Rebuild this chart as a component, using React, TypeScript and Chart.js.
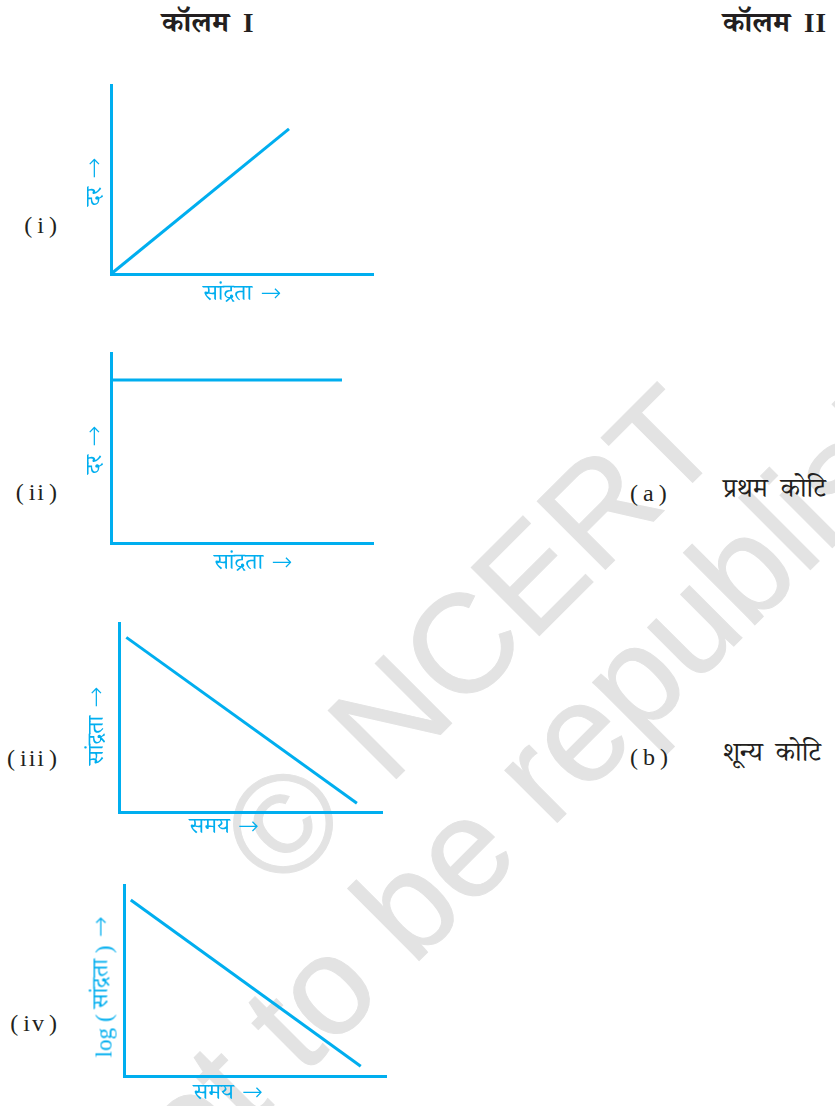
import React, { useEffect, useRef } from "react";
import { Chart, registerables } from "chart.js";

Chart.register(...registerables);

// ---- data (percent of axis range) ----
const panelIds = ["i", "ii", "iii", "iv"];
const panel1X = [0, 68.2];
const panel1Y = [0, 76.8];
const panel2X = [0, 88.5];
const panel2Y = [85.8, 85.8];
const panel3X = [2.8, 90.8];
const panel3Y = [92.4, 4.6];
const panel4X = [2.6, 90.7];
const panel4Y = [92.1, 5.1];
const yTitles = ["दर", "दर", "सांद्रता", "log ( सांद्रता )"];
const xTitles = ["सांद्रता", "सांद्रता", "समय", "समय"];
const ARROW = "→";
const columnHeads = ["कॉलम I", "कॉलम II"];
const answerIds = ["a", "b"];
const answerTexts = ["प्रथम कोटि", "शून्य कोटि"];
const watermarkLines = ["© NCERT", "not to be republished"];

const CYAN = "#00AEEF";
const DEVA = '"Noto Serif Devanagari", "Noto Sans Devanagari", "Lohit Devanagari", "FreeSerif", "Noto Sans", sans-serif';
const SERIF = '"Liberation Serif", "DejaVu Serif", serif';

// plot rectangles in page pixels: left, top, right, bottom
const rects = [
  [111, 85, 372, 274],
  [111, 353, 372, 543],
  [119, 623, 381, 812],
  [124, 885, 385, 1076],
];
const xs = [panel1X, panel2X, panel3X, panel4X];
const ys = [panel1Y, panel2Y, panel3Y, panel4Y];
const yTitlePos = [
  [97, 182],
  [97, 450],
  [99, 726],
  [104, 987],
];
const xTitlePos = [
  [242, 296],
  [253, 565],
  [224, 829],
  [228, 1095],
];
const idY = [225, 492, 758, 1023];
const answerY = [493, 757];
// watermark line starts (baseline-left, page px) and word spacing
const wmStart = [
  [281, 894],
  [138, 1242],
];
const wmWordSpacing = [10, 0];

const PAD = 12;

function Panel({ idx }: { idx: number }) {
  const ref = useRef<HTMLCanvasElement | null>(null);
  const [l, t, r, b] = rects[idx];
  const w = r - l + PAD * 2;
  const h = b - t + PAD * 2;
  useEffect(() => {
    if (!ref.current) return;
    const pts = xs[idx].map((x, i) => ({ x, y: ys[idx][i] }));
    const chart = new Chart(ref.current, {
      type: "line",
      data: {
        datasets: [
          {
            data: pts,
            borderColor: CYAN,
            borderWidth: 3,
            pointRadius: 0,
            fill: false,
            tension: 0,
            clip: false as any,
          },
        ],
      },
      options: {
        animation: false,
        responsive: false,
        maintainAspectRatio: false,
        devicePixelRatio: 1,
        layout: { padding: PAD },
        plugins: { legend: { display: false }, tooltip: { enabled: false } },
        scales: {
          x: {
            type: "linear",
            min: 0,
            max: 100,
            grid: { display: false, drawTicks: false, lineWidth: 3 },
            ticks: { display: false },
            border: { display: true, color: CYAN, width: 3 },
          },
          y: {
            type: "linear",
            min: 0,
            max: 100,
            grid: { display: false, drawTicks: false, lineWidth: 3 },
            ticks: { display: false },
            border: { display: true, color: CYAN, width: 3 },
          },
        },
      },
    });
    return () => chart.destroy();
  }, [idx]);
  return (
    <canvas
      ref={ref}
      width={w}
      height={h}
      style={{ position: "absolute", left: l - PAD, top: t - PAD, width: w, height: h }}
    />
  );
}

function AxisTitle({ text }: { text: string }) {
  const parts = text.split(/(log|\(|\))/).filter((p) => p !== "");
  return (
    <span style={{ display: "inline-flex", alignItems: "center" }}>
      {parts.map((p, i) =>
        p === "log" || p === "(" || p === ")" ? (
          <span key={i} style={{ fontFamily: SERIF, fontSize: 23, whiteSpace: "pre" }}>{p}</span>
        ) : (
          <span key={i} style={{ fontFamily: DEVA, whiteSpace: "pre" }}>{p}</span>
        )
      )}
      <span
        style={{
          fontFamily: '"DejaVu Sans", sans-serif',
          fontWeight: 200,
          fontSize: 25,
          marginLeft: 8,
          lineHeight: 1,
          position: "relative",
          top: -4,
        }}
      >
        {ARROW}
      </span>
    </span>
  );
}

function Paren({ id, left, right, top }: { id: string; left?: number; right?: number; top: number }) {
  return (
    <div
      style={{
        position: "absolute",
        whiteSpace: "nowrap",
        left,
        right,
        top,
        transform: "translateY(-50%)",
        fontFamily: SERIF,
        fontSize: 24,
        color: "#231f20",
        display: "flex",
        gap: 5,
      }}
    >
      <span>(</span>
      <span style={{ letterSpacing: 2, marginRight: -2 }}>{id}</span>
      <span>)</span>
    </div>
  );
}

export default function App() {
  const abs: React.CSSProperties = { position: "absolute", whiteSpace: "nowrap" };
  const WM_SIZE = 140;
  const WM_BASE = 118.5; // baseline offset inside a 140px line box
  return (
    <div
      style={{
        position: "absolute",
        left: 0,
        top: 0,
        width: 835,
        height: 1106,
        background: "#fff",
        overflow: "hidden",
      }}
    >
      {/* watermark */}
      {watermarkLines.map((line, i) => (
        <div
          key={line}
          style={{
            ...abs,
            left: wmStart[i][0],
            top: wmStart[i][1] - WM_BASE,
            fontFamily: '"Liberation Sans", Arial, sans-serif',
            fontSize: WM_SIZE,
            lineHeight: WM_SIZE + "px",
            wordSpacing: wmWordSpacing[i],
            color: "#e3e3e3",
            WebkitTextStroke: "1px #e3e3e3",
            transformOrigin: `0px ${WM_BASE}px`,
            transform: "rotate(-45deg)",
          }}
        >
          {line}
        </div>
      ))}

      {/* column heads */}
      {columnHeads.map((hd, i) => {
        const [word, num] = hd.split(" ");
        return (
          <div
            key={hd}
            style={{ ...abs, left: i === 0 ? 162 : 723, top: 27, transform: "translateY(-50%)", fontWeight: 700, color: "#231f20" }}
          >
            <span style={{ fontFamily: DEVA, fontSize: 29 }}>{word}</span>
            <span style={{ fontFamily: SERIF, fontSize: 27, marginLeft: 14, letterSpacing: 1 }}>{num}</span>
          </div>
        );
      })}

      {/* panel ids */}
      {panelIds.map((id, i) => (
        <Paren key={id} id={id} right={835 - 57} top={idY[i]} />
      ))}

      {/* charts */}
      {rects.map((_, i) => (
        <Panel key={i} idx={i} />
      ))}

      {/* axis titles */}
      {yTitles.map((s, i) => (
        <div
          key={"y" + i}
          style={{
            ...abs,
            left: yTitlePos[i][0],
            top: yTitlePos[i][1],
            transform: "translate(-50%, -50%) rotate(-90deg)",
            fontSize: 23,
            color: CYAN,
          }}
        >
          <AxisTitle text={s} />
        </div>
      ))}
      {xTitles.map((s, i) => (
        <div
          key={"x" + i}
          style={{
            ...abs,
            left: xTitlePos[i][0],
            top: xTitlePos[i][1],
            transform: "translate(-50%, -50%)",
            fontSize: 23,
            color: CYAN,
          }}
        >
          <AxisTitle text={s} />
        </div>
      ))}

      {/* answers */}
      {answerIds.map((id, i) => (
        <React.Fragment key={id}>
          <Paren id={id} left={630} top={answerY[i]} />
          <div style={{ ...abs, left: 723, top: answerY[i], transform: "translateY(-50%)", fontFamily: DEVA, fontSize: 27, color: "#231f20", wordSpacing: 6 }}>
            {answerTexts[i]}
          </div>
        </React.Fragment>
      ))}
    </div>
  );
}
